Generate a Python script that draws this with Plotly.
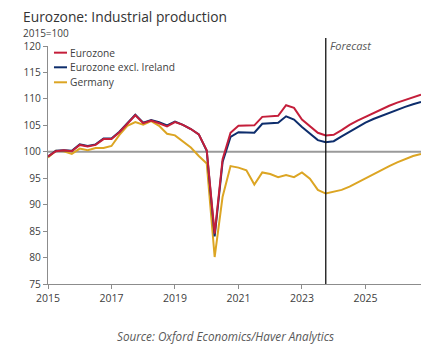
import plotly.graph_objects as go

# ---- Data (quarterly, index 2015=100) ----
years = list(range(2015, 2027))
quarters = [f"{y}Q{q}" for y in years for q in range(1, 5)]

eurozone = [
    99.1, 100.1, 100.3, 100.1,
    101.3, 101.0, 101.3, 102.4,
    102.4, 103.7, 105.3, 106.9,
    105.4, 105.9, 105.4, 104.8,
    105.6, 105.1, 104.3, 103.3,
    100.3, 84.5, 98.6, 103.6,
    104.9, 104.9, 105.0, 106.6,
    106.7, 106.8, 108.8, 108.3,
    106.1, 104.9, 103.6, 103.1,
    103.2, 104.1, 105.1, 105.9,
    106.6, 107.4, 108.1, 108.7,
    109.3, 109.8, 110.3, 110.8,
]
eurozone_ex_ireland = [
    99.1, 100.2, 100.3, 100.2,
    101.4, 101.1, 101.4, 102.5,
    102.5, 103.8, 105.4, 107.0,
    105.5, 106.0, 105.6, 105.0,
    105.7, 105.1, 104.3, 103.3,
    100.2, 84.0, 98.1, 102.8,
    103.7, 103.7, 103.6, 105.3,
    105.4, 105.5, 106.7, 106.1,
    104.7, 103.5, 102.2, 101.8,
    102.0, 102.9, 103.8, 104.7,
    105.5, 106.2, 106.8, 107.4,
    108.0, 108.5, 109.0, 109.4,
]
germany = [
    98.9, 100.2, 100.1, 99.6,
    100.6, 100.3, 100.7, 100.7,
    101.1, 103.2, 104.9, 105.6,
    105.1, 105.8, 104.9, 103.4,
    103.1, 102.0, 100.8, 99.2,
    97.8, 80.1, 91.5, 97.3,
    97.0, 96.5, 93.8, 96.1,
    95.8, 95.2, 95.6, 95.2,
    96.1, 94.9, 92.8, 92.1,
    92.4, 92.8, 93.4, 94.2,
    95.0, 95.8, 96.6, 97.3,
    98.0, 98.6, 99.2, 99.6,
]
forecast_start = "2023Q4"
series_names = ["Eurozone", "Eurozone excl. Ireland", "Germany"]
x_ticks = [2015, 2017, 2019, 2021, 2023, 2025]
y_ticks = [75, 80, 85, 90, 95, 100, 105, 110, 115, 120]


def qpos(label):
    y, q = label.split("Q")
    return int(y) + (int(q) - 1) / 4


x = [qpos(q) for q in quarters]

RED = "#C41E3A"
NAVY = "#0D2D6C"
GOLD = "#DCA523"
colors = [RED, NAVY, GOLD]
FONT = "Open Sans"
TXT = "#404040"

fig = go.Figure()
for name, vals, col in zip(series_names, [eurozone, eurozone_ex_ireland, germany], colors):
    fig.add_trace(go.Scatter(x=x, y=vals, mode="lines", name=name,
                             line=dict(color=col, width=2), showlegend=False))

# draw Germany under, Eurozone on top
fig.data = (fig.data[2], fig.data[1], fig.data[0])

shapes = [
    dict(type="line", xref="paper", yref="y", x0=0, x1=1, y0=100, y1=100,
         line=dict(color="#9A9A9A", width=2), layer="below"),
    dict(type="line", xref="x", yref="paper", x0=qpos(forecast_start), x1=qpos(forecast_start),
         y0=0, y1=1.034, line=dict(color="#111111", width=1.3)),
]
annotations = []
leg_y = [0.972, 0.9105, 0.8475]
for name, col, yy in zip(series_names, colors, leg_y):
    shapes.append(dict(type="line", xref="paper", yref="paper", x0=0.016, x1=0.051,
                       y0=yy, y1=yy, line=dict(color=col, width=2)))
    annotations.append(dict(xref="paper", yref="paper", x=0.053, y=yy, text=name,
                            showarrow=False, xanchor="left", yanchor="middle",
                            font=dict(family=FONT, size=10.2, color=TXT)))

annotations += [
    dict(xref="paper", yref="paper", x=-0.072, y=1.054, text="2015=100", showarrow=False,
         xanchor="left", yanchor="middle", font=dict(family=FONT, size=10, color=TXT)),
    dict(xref="x", yref="paper", x=qpos(forecast_start), y=1.004, xshift=2,
         text="<i>Forecast</i>", showarrow=False, xanchor="left", yanchor="middle",
         font=dict(family=FONT, size=11, color="#595959")),
    dict(xref="paper", yref="paper", x=0.477, y=-0.217,
         text="<i>Source: Oxford Economics/Haver Analytics</i>", showarrow=False,
         xanchor="center", yanchor="middle", font=dict(family=FONT, size=11.7, color="#595959")),
]

# page body has an 8px default margin; size the figure to compensate
fig.update_layout(
    width=431, height=351,
    margin=dict(l=40, r=18, t=38, b=75),
    paper_bgcolor="white", plot_bgcolor="white",
    title=dict(text="Eurozone: Industrial production", x=0.035, xanchor="left",
               xref="container", y=0.9735, yref="container", yanchor="middle",
               font=dict(family=FONT, size=13.8, color="#333333")),
    font=dict(family=FONT, size=10.2, color=TXT),
    shapes=shapes, annotations=annotations,
    xaxis=dict(range=[2015, 2026.75], tickvals=x_ticks, ticktext=[str(v) for v in x_ticks],
               showgrid=False, zeroline=False, showline=True, linecolor="#8C8C8C", linewidth=1,
               ticks="outside", ticklen=4, tickcolor="#8C8C8C",
               tickfont=dict(family=FONT, size=10.5, color=TXT)),
    yaxis=dict(range=[75, 120], tickvals=y_ticks, showgrid=False, zeroline=False,
               showline=True, linecolor="#8C8C8C", linewidth=1,
               ticks="outside", ticklen=4, tickcolor="#8C8C8C",
               tickfont=dict(family=FONT, size=10.2, color=TXT)),
)

fig.write_html("out.html")
